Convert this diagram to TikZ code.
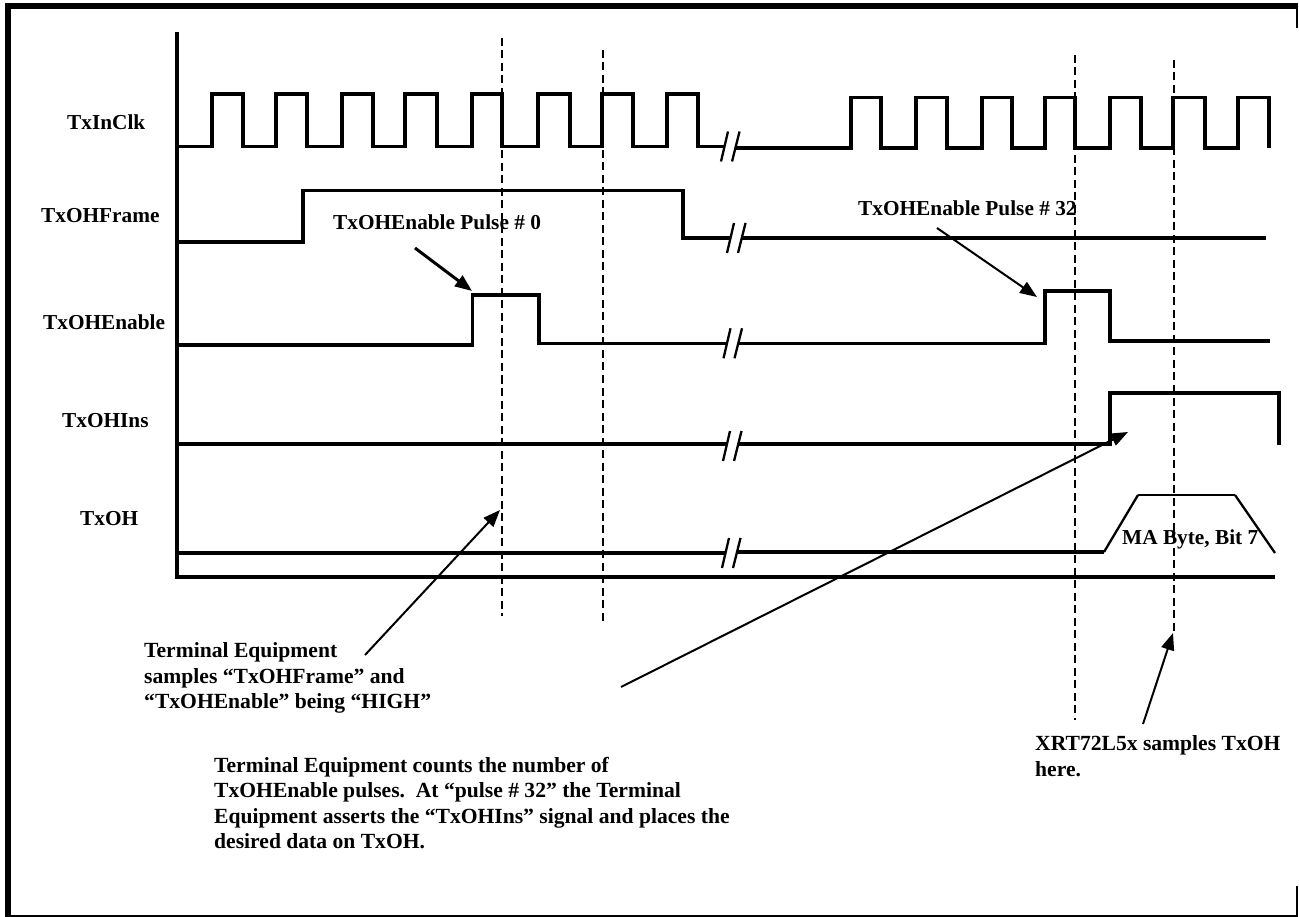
\documentclass[tikz,border=0pt]{standalone}
\usepackage{fontspec}
\setmainfont{Liberation Serif}
\usetikzlibrary{arrows.meta}
\begin{document}
\begin{tikzpicture}[x=1pt,y=-1pt,line join=miter,
  wave/.style={line width=3.3pt},
  axisline/.style={line width=4pt},
  guide/.style={line width=2pt,dash pattern=on 8pt off 4.5pt},
  callout/.style={line width=2pt,-{Triangle[length=17pt,width=13pt]}},
  brk/.style={line width=2.3pt},
  sig/.style={font=\fontsize{21.3}{25.5}\selectfont\bfseries,inner sep=0pt},
  note/.style={font=\fontsize{21.6}{25.5}\selectfont\bfseries,inner sep=0pt,align=left},
  breakmark/.pic={\draw[brk] (-9,15) -- (-2,-15); \draw[brk] (2,15) -- (9.5,-15);}
]
\useasboundingbox (0,0) rectangle (1299,917);
% frame
\draw[line width=5.5pt] (5,6) -- (1298,6);
\draw[line width=5.5pt] (8,3.5) -- (8,916);
\draw[line width=2.5pt] (1297,3.5) -- (1297,28);
\draw[line width=1.8pt] (5,916) -- (1298,916);
\draw[line width=2pt] (1297,886) -- (1297,917);
% axes
\draw[axisline] (177,32) -- (177,577) -- (1275,577);
% dashed guides
\draw[guide] (502,38) -- (502,616);
\draw[guide] (603,50) -- (603,623);
\draw[guide] (1075,55) -- (1075,720);
\draw[guide] (1174,60) -- (1174,632);
% TxInClk
\draw[wave] (177,146.5) -| (212,94) -| (243,146.5) -| (276,94) -| (307,146.5)
  -| (342,94) -| (373,146.5) -| (405,94) -| (437,146.5) -| (472,94) -| (502,146.5)
  -| (538,94) -| (570,146.5) -| (602,94) -| (633,146.5) -| (667,94) -| (698,146.5)
  -- (724.5,146.5);
\pic at (730,146.5) {breakmark};
\draw[wave] (735.8,148) -| (851,97.5) -| (881,148) -| (916,97.5) -| (947,148)
  -| (982,97.5) -| (1012,148) -| (1045,97.5) -| (1075,148) -| (1110,97.5) -| (1141,148)
  -| (1173,97.5) -| (1205,148) -| (1238,97.5) -| (1269,148);
% TxOHFrame
\draw[wave] (177,242) -| (303,190.5) -| (683,238) -- (730.5,238);
\pic at (736,238) {breakmark};
\draw[wave] (741.8,238) -- (1266,238);
% TxOHEnable
\draw[wave] (177,345) -| (472.5,295) -| (539,343.3) -- (727,343.3);
\pic at (732.5,343.3) {breakmark};
\draw[wave] (738.3,343.3) -| (1045,291) -| (1110,341) -- (1270,341);
% TxOHIns
\draw[wave] (177,444) -- (726.5,444);
\pic at (732,446) {breakmark};
\draw[wave] (737.8,444) -- (1110,444) |- (1279,393) -- (1279,445);
% TxOH
\draw[wave] (177,553) -- (725.5,553);
\pic at (731,553) {breakmark};
\draw[wave] (736.8,552) -- (1104,552);
\draw[line width=2.3pt] (1104,552) -- (1138,495);
\draw[line width=1.3pt] (1138,495) -- (1235,495);
\draw[line width=2.3pt] (1235,495) -- (1275,553);
% signal labels
\node[sig,anchor=base west] (lclk) at (67,130) {TxInClk};
\node[sig,anchor=base west] (lframe) at (41,223) {TxOHFrame};
\node[sig,anchor=base west] (lenable) at (43,330) {TxOHEnable};
\node[sig,anchor=base west] (lins) at (62,428) {TxOHIns};
\node[sig,anchor=base west] (loh) at (80,525) {TxOH};
\node[sig,anchor=base west] (p0) at (333,230) {TxOHEnable Pulse \# 0};
\node[sig,anchor=base west] (p32) at (858,216) {TxOHEnable Pulse \# 32};
\node[sig,anchor=base west] (ma) at (1122,544) {MA Byte, Bit 7};
% notes
\node[note,anchor=north west] (n1) at (144,642.5) {Terminal Equipment\\samples “TxOHFrame” and\\“TxOHEnable” being “HIGH”};
\node[note,anchor=north west] (n2) at (214,757) {Terminal Equipment counts the number of\\TxOHEnable pulses.\ \ At “pulse \# 32” the Terminal\\Equipment asserts the “TxOHIns” signal and places the\\desired data on TxOH.};
\node[note,anchor=north west] (n3) at (1035,735.5) {XRT72L5x samples TxOH\\here.};
% callout arrows
\coordinate (a1s) at (415,248); \coordinate (a1e) at (472,291);
\coordinate (a2s) at (937,228); \coordinate (a2e) at (1037,297);
\coordinate (a3s) at (621,687); \coordinate (a3e) at (1128,432);
\coordinate (a4s) at (365,655); \coordinate (a4e) at (500,510);
\coordinate (a5s) at (1143,724); \coordinate (a5e) at (1173,633);
\draw[callout,line width=3pt] (a1s) -- (a1e);
\draw[callout] (a2s) -- (a2e);
\draw[callout] (a3s) -- (a3e);
\draw[callout] (a4s) -- (a4e);
\draw[callout] (a5s) -- (a5e);
\end{tikzpicture}
\end{document}
